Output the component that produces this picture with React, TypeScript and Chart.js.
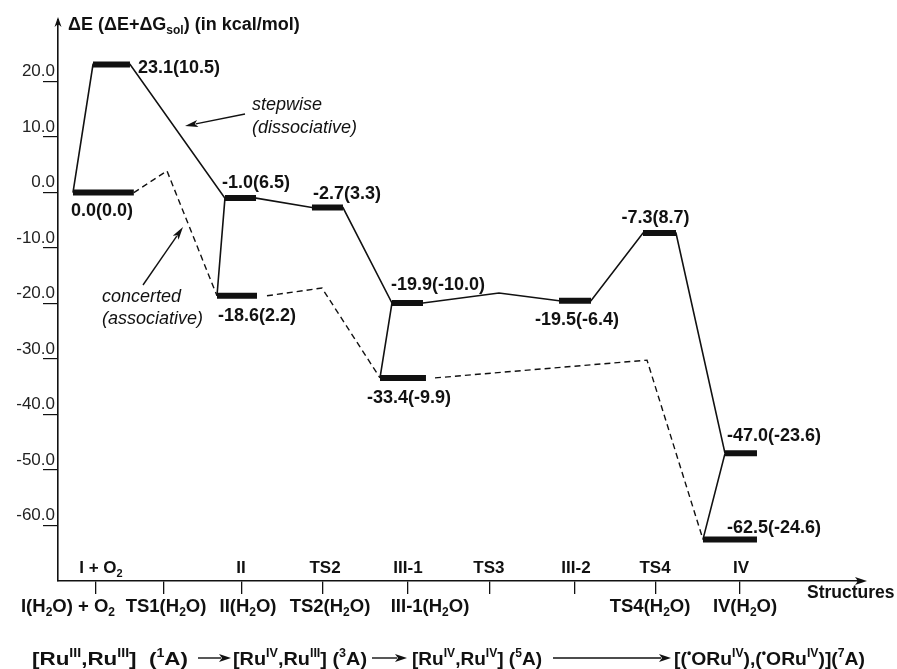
import React, { useEffect, useRef } from 'react';
import { Chart, registerables } from 'chart.js';

Chart.register(...registerables);

const FONT = "'Liberation Sans', Arial, Helvetica, sans-serif";
const INK = '#111';

// ---- Structure (x) axis: tick positions in "structure units" and labels ----
const structTickPos = [0, 0.845, 1.814, 2.82, 3.876, 4.894, 5.95, 6.957, 8.0];
const structTopLabels = ['I + O_{2}', '', 'II', 'TS2', 'III-1', 'TS3', 'III-2', 'TS4', 'IV'];
const structLowLabels = ['I(H_{2}O) + O_{2}', 'TS1(H_{2}O)', 'II(H_{2}O)', 'TS2(H_{2}O)', 'III-1(H_{2}O)', '', '', 'TS4(H_{2}O)', 'IV(H_{2}O)'];

// ---- Energy (y) axis ----
const yTickValues = [20, 10, 0, -10, -20, -30, -40, -50, -60];

// ---- Energy levels (thick bars): ΔE and (ΔE+ΔGsol) ----
const levelNames = ['I + O2', 'TS1', 'II', 'TS2', 'III-1', 'III-2', 'TS4', 'IV', 'II(H2O)', 'III-1(H2O)', 'IV(H2O)'];
const levelEnergy = [0.0, 23.1, -1.0, -2.7, -19.9, -19.5, -7.3, -47.0, -18.6, -33.4, -62.5];
const levelSolv = [0.0, 10.5, 6.5, 3.3, -10.0, -6.4, 8.7, -23.6, 2.2, -9.9, -24.6];
const levelStart = [-0.286, -0.037, 1.602, 2.683, 3.677, 5.752, 6.795, 7.814, 1.503, 3.528, 7.54];
const levelEnd = [0.47, 0.422, 1.988, 3.068, 4.062, 6.149, 7.205, 8.211, 2.0, 4.099, 8.211];

// ---- Stepwise (dissociative) path, solid ----
const stepX = [-0.286, -0.037, 0.422, 1.602, 1.988, 2.683, 3.068, 3.677, 4.062, 5.006, 5.752, 6.149, 6.795, 7.205, 7.814];
const stepE = [0.0, 23.1, 23.1, -1.0, -1.0, -2.7, -2.7, -19.9, -19.9, -18.1, -19.5, -19.5, -7.3, -7.3, -47.0];

// solid connectors from dry level to hydrated level (indices into levels)
const linkFrom = [2, 4, 7];
const linkTo = [8, 9, 10];

// ---- Concerted (associative) path, dashed ----
const concSegX = [
  [0.47, 0.882, 1.503],
  [2.124, 2.807, 3.528],
  [4.211, 6.845, 7.54],
];
const concSegE = [
  [0.0, 3.9, -18.6],
  [-18.6, -17.2, -33.4],
  [-33.4, -30.2, -62.5],
];

// spin-state sequence below the axis
const spinStates = [
  '[Ru^{III},Ru^{III}]  (^{1}A)',
  '[Ru^{IV},Ru^{III}] (^{3}A)',
  '[Ru^{IV},Ru^{IV}] (^{5}A)',
  '[(^{\u2022}ORu^{IV}),(^{\u2022}ORu^{IV})](^{7}A)',
];

// label layout (anchor on bar, pixel offsets)
const labelAnchor = ['start', 'end', 'start', 'start', 'start', 'center', 'center', 'start', 'start', 'start', 'start'];
const labelDx = [-2, 8, -3, 1, -1, 2, -4, 2, 1, -13, 24];
const labelDy = [23, 9, -10, -9, -13, 24, -10, -12, 25, 25, -6];
const topLabelDx = [5, 0, -1, 2, 0, -1, 1, -1, 1];
const lowLabelDx = [-28, 2, 6, 7, 22, 0, 0, -6, 5];
const spinX0 = [32, 233, 412, 674];
const spinW = [156, 134, 130, 191];
const spinArrows = [
  [198, 231],
  [372, 407],
  [553, 671],
];

type Seg = { t: string; k: 'n' | 'sub' | 'sup' };

function parseRich(s: string): Seg[] {
  const out: Seg[] = [];
  const re = /(_|\^)\{([^}]*)\}/g;
  let last = 0;
  let m: RegExpExecArray | null;
  while ((m = re.exec(s))) {
    if (m.index > last) out.push({ t: s.slice(last, m.index), k: 'n' });
    out.push({ t: m[2], k: m[1] === '_' ? 'sub' : 'sup' });
    last = re.lastIndex;
  }
  if (last < s.length) out.push({ t: s.slice(last), k: 'n' });
  return out;
}

function drawRich(
  ctx: CanvasRenderingContext2D,
  s: string,
  x: number,
  y: number,
  o: { size: number; weight?: string; italic?: boolean; align?: string; width?: number; color?: string; sup?: number }
) {
  const segs = parseRich(s);
  const weight = o.weight || 'bold';
  const supScale = o.sup || 0.66;
  const fontFor = (k: string) =>
    `${o.italic ? 'italic ' : ''}${weight} ${k === 'n' ? o.size : Math.round(o.size * supScale)}px ${FONT}`;
  let w = 0;
  const widths = segs.map((sg) => {
    ctx.font = fontFor(sg.k);
    const ww = ctx.measureText(sg.t).width;
    w += ww;
    return ww;
  });
  const sc = o.width ? o.width / w : 1;
  const align = o.align || 'left';
  const x0 = align === 'center' ? x - (w * sc) / 2 : align === 'right' ? x - w * sc : x;
  ctx.save();
  ctx.translate(x0, y);
  ctx.scale(sc, 1);
  ctx.textBaseline = 'alphabetic';
  ctx.textAlign = 'left';
  ctx.fillStyle = o.color || INK;
  let cx = 0;
  segs.forEach((sg, i) => {
    ctx.font = fontFor(sg.k);
    const dy = sg.k === 'sub' ? o.size * 0.24 : sg.k === 'sup' ? -o.size * 0.4 : 0;
    ctx.fillText(sg.t, cx, dy);
    cx += widths[i];
  });
  ctx.restore();
}

function drawArrow(
  ctx: CanvasRenderingContext2D,
  x1: number,
  y1: number,
  x2: number,
  y2: number,
  len = 12,
  half = 3.5,
  lw = 1.4
) {
  const a = Math.atan2(y2 - y1, x2 - x1);
  const bx = x2 - Math.cos(a) * len;
  const by = y2 - Math.sin(a) * len;
  ctx.save();
  ctx.strokeStyle = INK;
  ctx.fillStyle = INK;
  ctx.lineWidth = lw;
  ctx.beginPath();
  ctx.moveTo(x1, y1);
  ctx.lineTo(bx + Math.cos(a) * 2, by + Math.sin(a) * 2);
  ctx.stroke();
  ctx.beginPath();
  ctx.moveTo(x2, y2);
  ctx.lineTo(bx + Math.sin(a) * half, by - Math.cos(a) * half);
  ctx.lineTo(bx + Math.cos(a) * 3, by + Math.sin(a) * 3);
  ctx.lineTo(bx - Math.sin(a) * half, by + Math.cos(a) * half);
  ctx.closePath();
  ctx.fill();
  ctx.restore();
}

const fmt = (v: number) => v.toFixed(1);

const decorPlugin = {
  id: 'decor',
  afterDraw(chart: any) {
    const ctx: CanvasRenderingContext2D = chart.ctx;
    const xs = chart.scales.x;
    const ys = chart.scales.y;
    const area = chart.chartArea;

    // axis arrowheads
    drawArrow(ctx, area.left, area.top + 4, area.left, area.top - 3, 10, 3.5, 1.6);
    drawArrow(ctx, area.right - 4, area.bottom, area.right + 4, area.bottom, 12, 4, 1.6);

    // axis title
    drawRich(ctx, '\u0394E (\u0394E+\u0394G_{sol}) (in kcal/mol)', area.left + 10, 30, { size: 18 });

    // x axis title
    drawRich(ctx, 'Structures', 807, 598, { size: 17.5 });

    // structure labels
    structTickPos.forEach((p, i) => {
      const px = xs.getPixelForValue(p);
      if (structTopLabels[i]) drawRich(ctx, structTopLabels[i], px + topLabelDx[i], 573, { size: 17, align: 'center' });
      if (structLowLabels[i]) drawRich(ctx, structLowLabels[i], px + lowLabelDx[i], 612, { size: 18.5, align: 'center' });
    });

    // value labels on levels
    levelEnergy.forEach((e, i) => {
      const y = ys.getPixelForValue(e);
      const x0 = xs.getPixelForValue(levelStart[i]);
      const x1 = xs.getPixelForValue(levelEnd[i]);
      const text = `${fmt(e)}(${fmt(levelSolv[i])})`;
      const anc = labelAnchor[i];
      const ax = anc === 'start' ? x0 : anc === 'end' ? x1 : (x0 + x1) / 2;
      drawRich(ctx, text, ax + labelDx[i], y + labelDy[i], { size: 18, align: anc === 'center' ? 'center' : 'left' });
    });

    // annotations
    drawRich(ctx, 'stepwise', 252, 110, { size: 18, weight: 'normal', italic: true });
    drawRich(ctx, '(dissociative)', 252, 133, { size: 18, weight: 'normal', italic: true });
    drawArrow(ctx, 245, 114, 185, 126, 13, 3.5, 1.4);
    drawRich(ctx, 'concerted', 102, 302, { size: 18, weight: 'normal', italic: true });
    drawRich(ctx, '(associative)', 102, 324, { size: 18, weight: 'normal', italic: true });
    drawArrow(ctx, 143, 285, 183, 227, 13, 3.5, 1.4);

    // spin-state sequence
    spinStates.forEach((s, i) => {
      drawRich(ctx, s, spinX0[i], 665, { size: 19, width: spinW[i], sup: 0.62 });
    });
    spinArrows.forEach(([a, b]) => drawArrow(ctx, a, 658, b, 658, 12, 4, 1.4));
  },
};

export default function App() {
  const ref = useRef<HTMLCanvasElement>(null);

  useEffect(() => {
    const canvas = ref.current;
    if (!canvas) return;

    const pt = (x: number, y: number | null) => ({ x, y });

    const barData: any[] = [];
    levelEnergy.forEach((e, i) => {
      barData.push(pt(levelStart[i], e), pt(levelEnd[i], e), pt(levelEnd[i], null));
    });

    const stepData = stepX.map((x, i) => pt(x, stepE[i]));

    const linkData: any[] = [];
    linkFrom.forEach((f, k) => {
      const t = linkTo[k];
      linkData.push(pt(levelStart[f], levelEnergy[f]), pt(levelStart[t], levelEnergy[t]), pt(levelStart[t], null));
    });

    const concData: any[] = [];
    concSegX.forEach((xsArr, s) => {
      xsArr.forEach((x, j) => concData.push(pt(x, concSegE[s][j])));
      concData.push(pt(xsArr[xsArr.length - 1], null));
    });

    const common = {
      pointRadius: 0,
      pointHoverRadius: 0,
      tension: 0,
      fill: false,
      spanGaps: false,
      borderColor: INK,
    };

    const chart = new Chart(canvas, {
      type: 'line',
      data: {
        datasets: [
          { ...common, label: 'concerted (associative)', data: concData, borderWidth: 1.4, borderDash: [6, 4] },
          { ...common, label: 'stepwise (dissociative)', data: stepData, borderWidth: 1.6 },
          { ...common, label: 'links', data: linkData, borderWidth: 1.6 },
          { ...common, label: 'levels', data: barData, borderWidth: 6, borderCapStyle: 'butt' },
        ],
      },
      options: {
        responsive: false,
        animation: false,
        devicePixelRatio: 1,
        events: [],
        layout: { padding: { top: 20, right: 34, left: 0, bottom: 0 } },
        plugins: { legend: { display: false }, tooltip: { enabled: false } },
        scales: {
          x: {
            type: 'linear',
            position: 'bottom',
            min: -0.472,
            max: 9.528,
            afterFit: (s: any) => {
              s.height = 88;
            },
            afterBuildTicks: (s: any) => {
              s.ticks = structTickPos.map((v) => ({ value: v }));
            },
            grid: { drawOnChartArea: false, drawTicks: true, tickLength: 13, color: INK, lineWidth: 1.3 },
            border: { display: true, color: INK, width: 1.6 },
            ticks: { display: false, autoSkip: false },
          },
          y: {
            type: 'linear',
            position: 'left',
            min: -70,
            max: 31.1,
            afterFit: (s: any) => {
              s.width = 58;
            },
            afterBuildTicks: (s: any) => {
              s.ticks = yTickValues.map((v) => ({ value: v }));
            },
            grid: { drawOnChartArea: false, drawTicks: true, tickLength: 15, color: INK, lineWidth: 1.2 },
            border: { display: true, color: INK, width: 1.6 },
            ticks: {
              padding: -12,
              labelOffset: -10,
              color: '#222',
              font: { family: FONT, size: 17 },
              callback: (v: any) => Number(v).toFixed(1),
            },
          },
        },
      } as any,
      plugins: [decorPlugin],
    });

    return () => chart.destroy();
  }, []);

  return (
    <div style={{ position: 'absolute', left: 0, top: 0, width: 897, height: 669, background: '#fff' }}>
      <canvas ref={ref} width={897} height={669} style={{ display: 'block' }} />
    </div>
  );
}
